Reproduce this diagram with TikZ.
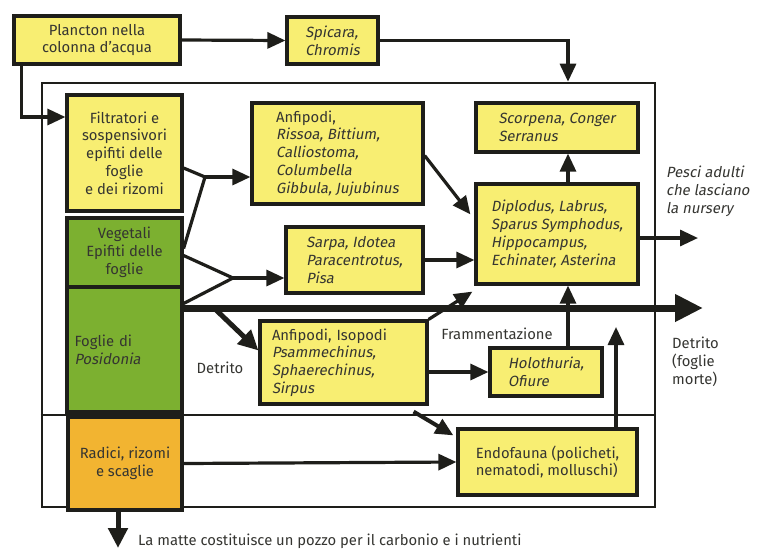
\documentclass[tikz,border=0pt]{standalone}
\usepackage{fontspec}
\setmainfont{Fira Sans}[ItalicFont=Fira Sans, ItalicFeatures={FakeSlant=0.18}]
\usepackage{xcolor}
\usepackage{tikz}
\usetikzlibrary{arrows.meta,positioning,calc}

\definecolor{boxyellow}{HTML}{F8EE72}
\definecolor{leafgreen}{HTML}{7CB030}
\definecolor{rootorange}{HTML}{F2B431}
\definecolor{inkline}{HTML}{1E1E1A}

\begin{document}
\begin{tikzpicture}[
    x=1pt, y=-1pt,
    every node/.style={font=\fontsize{14.8}{17.8}\selectfont, text=inkline!90},
    box/.style={rectangle, draw=inkline, line width=3.2pt, fill=boxyellow, align=left, inner sep=0pt},
    frame/.style={rectangle, draw=inkline, line width=2.6pt, inner sep=0pt},
    line/.style={draw=inkline, line width=3.2pt},
    arrow/.style={line, -{Triangle[length=18pt,width=16pt]}},
    bigarrow/.style={draw=inkline, line width=7pt, -{Triangle[length=28pt,width=26pt]}},
    midarrow/.style={draw=inkline, line width=5pt, -{Triangle[length=20pt,width=19pt]}},
    lbl/.style={align=left, inner sep=0pt}
]
\useasboundingbox (0,0) rectangle (758,550);

% Outer frame and separation line
\node[frame, minimum width=613pt, minimum height=424pt] (frame) at (348.5,295) {};
\coordinate (colx) at (568,0);

% Water column
\node[box, align=center, minimum width=166pt, minimum height=48pt] (planc) at (97,40) {Plancton nella\\colonna d'acqua};
\node[box, minimum width=91pt, minimum height=47pt] (spic) at (332.5,40.5) {\itshape Spicara,\\\itshape Chromis};

% Posidonia plant
\node[box, align=center, minimum width=115pt, minimum height=116pt] (filt) at (124.5,153) {Filtratori e\\sospensivori\\epifiti delle\\foglie\\e dei rizomi};
\node[box, fill=leafgreen, align=center, minimum width=115pt, minimum height=69pt] (veg) at (124.5,252.5) {Vegetali\\Epifiti delle\\foglie};
\node[box, fill=leafgreen, text width=100pt, minimum width=115pt, minimum height=125pt] (fogl) at (124.5,349.5) {Foglie di\\\itshape Posidonia};
\node[box, fill=rootorange, align=center, minimum width=114pt, minimum height=93pt] (radici) at (125,463.5) {Radici, rizomi\\e scaglie};
\draw[line, line width=2pt] (frame.west |- radici.north) -- (frame.east |- radici.north);
\node[box, fill=rootorange, align=center, minimum width=114pt, minimum height=93pt] at (radici) {Radici, rizomi\\e scaglie};

% Consumers
\node[box, minimum width=171pt, minimum height=101pt] (anf) at (337.5,153.5) {Anfipodi,\\\itshape Rissoa, Bittium,\\\itshape Calliostoma,\\\itshape Columbella\\\itshape Gibbula, Jujubinus};
\node[box, minimum width=137pt, minimum height=66pt] (sarpa) at (354.5,260) {\itshape Sarpa, Idotea\\\itshape Paracentrotus,\\\itshape Pisa};
\node[box, minimum width=162pt, minimum height=49pt] (scorp) at (557,127.5) {\itshape Scorpena, Conger\\\itshape Serranus};
\node[box, minimum width=162pt, minimum height=100pt] (diplo) at (557,234) {\itshape Diplodus, Labrus,\\\itshape Sparus Symphodus,\\\itshape Hippocampus,\\\itshape Echinater, Asterina};
\node[box, text width=143pt, minimum width=167pt, minimum height=83pt] (anfiso) at (343.5,362.5) {Anfipodi, Isopodi\\\itshape Psammechinus,\\\itshape Sphaerechinus,\\\itshape Sirpus};
\node[box, minimum width=112pt, minimum height=48pt] (holo) at (546,372) {\itshape Holothuria,\\\itshape Ofiure};
\node[box, minimum width=179pt, minimum height=66pt] (endo) at (547.5,462) {Endofauna (policheti,\\nematodi, molluschi)};

% Labels
\node[lbl, anchor=west] (pesci) at (666,191) {\itshape Pesci adulti\\\itshape che lasciano\\\itshape la nursery};
\node[lbl, anchor=west] (morte) at (672,362) {Detrito\\(foglie\\morte)};
\node[lbl] (detr) at (220,368) {Detrito};
\node[lbl] (framm) at (497,334) {Frammentazione};
\node[lbl, anchor=west] (matte) at (138,541) {La matte costituisce un pozzo per il carbonio e i nutrienti};

% Free ends and forks
\coordinate (forkA) at (205,177);
\coordinate (forkB) at (233,278);
\coordinate (split) at (214,308);
\coordinate (detend) at (703,308);
\coordinate (pesend) at (698,238);
\coordinate (endoup) at (616,327);
\coordinate (sink) at (118,548);

% Arrows
\draw[arrow] (planc.east) -- (spic.west);
\draw[arrow] (spic.east) -| (colx |- frame.north);
\draw[arrow] ($(planc.south west)+(9,0)$) |- ($(filt.west)+(0,-36)$);
\draw[line] ($(filt.east)+(0,15)$) -- (forkA);
\draw[line] ($(veg.east)+(0,-4)$) -- (forkA);
\draw[arrow] (forkA) -- (anf.west |- forkA);
\draw[line] ($(veg.east)+(0,3)$) -- (forkB);
\draw[line] ($(fogl.east)+(0,-46)$) -- (forkB);
\draw[arrow] (forkB) -- (sarpa.west |- forkB);
\draw[bigarrow] (fogl.east |- split) -- (detend);
\draw[midarrow] (split) -- ($(anfiso.west)+(0,-12)$);
\draw[arrow] ($(anf.east)+(0,2)$) -- ($(diplo.north west)+(-4,32)$);
\draw[arrow] (sarpa.east) -- (diplo.west |- sarpa.east);
\draw[arrow] (anfiso.north east) -- ($(diplo.south west)+(-2,6)$);
\draw[arrow] (colx |- diplo.north) -- (colx |- scorp.south);
\draw[arrow] (colx |- holo.north) -- (colx |- diplo.south);
\draw[arrow] ($(diplo.east)+(0,4)$) -- (pesend);
\draw[arrow] (anfiso.east |- holo.west) -- (holo.west);
\draw[arrow, line width=4pt] ($(anfiso.south east)+(-15,6)$) -- ($(endo.north west)+(-3,8)$);
\draw[arrow] (endo.north -| endoup) -- (endoup);
\draw[arrow] (radici.east) -- (endo.west);
\draw[midarrow] ($(radici.south)+(-7,0)$) -- (sink);

\end{tikzpicture}
\end{document}
